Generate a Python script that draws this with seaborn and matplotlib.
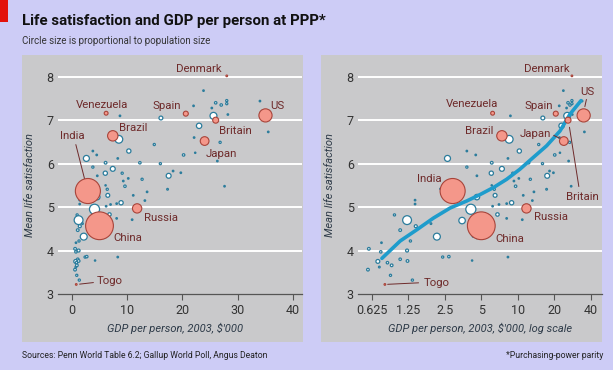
import numpy as np
import pandas as pd
import matplotlib
matplotlib.use("Agg")
import matplotlib.pyplot as plt
import seaborn as sns
from matplotlib.patches import Rectangle

# ---------------- data ----------------
named_countries = ["Denmark", "US", "Spain", "Britain", "Japan", "Brazil",
                   "Venezuela", "India", "China", "Russia", "Togo"]
named_gdp = [28.0, 35.0, 20.6, 26.0, 24.0, 7.4, 6.2, 2.9, 5.0, 11.8, 0.8]
named_sat = [8.02, 7.11, 7.15, 7.0, 6.52, 6.64, 7.16, 5.37, 4.57, 4.97, 3.22]
named_pop = [5, 290, 42, 60, 127, 180, 25, 1050, 1290, 145, 5]

other_gdp = [0.59, 0.58, 0.70, 0.75, 0.74, 0.72, 0.84, 0.91, 0.89, 0.96,
             1.07, 1.22, 1.44, 1.42, 1.42, 1.30, 1.22, 1.07, 1.23, 1.35,
             1.92, 2.15, 2.4, 2.7, 2.63, 2.55, 2.3, 3.0, 3.8, 3.8,
             3.3, 4.1, 3.47, 4.0, 4.3, 4.6, 4.6, 4.5, 4.6, 5.65,
             6.1, 6.05, 7.4, 6.1, 6.4, 6.5, 6.8, 6.2, 7.0, 8.1,
             8.9, 8.1, 8.3, 4.2, 8.7, 8.3, 8.5, 9.1, 9.3, 9.6,
             10.3, 10.2, 11.1, 10.9, 12.7, 12.3, 13.2, 13.6, 14.9, 16.0,
             16.1, 17.5, 17.3, 18.3, 19.7, 20.2, 22.0, 23.0, 25.6, 22.3,
             23.8, 26.0, 27.0, 28.0, 28.0, 26.3, 27.6, 26.8, 35.5, 34.0,
             28.2, 25.3, 22.1]
other_sat = [4.04, 3.56, 3.75, 4.18, 3.97, 3.62, 3.72, 3.66, 3.43, 4.82,
             4.47, 4.70, 4.56, 5.16, 5.07, 4.22, 4.00, 3.80, 3.76, 3.32,
             4.62, 4.32, 3.85, 3.86, 6.12, 5.33, 5.42, 5.38, 6.29, 5.92,
             5.27, 4.95, 4.69, 4.60, 4.33, 4.29, 5.23, 6.20, 5.72, 4.77,
             6.02, 5.78, 5.88, 5.50, 5.41, 5.27, 4.83, 5.02, 5.06, 5.08,
             5.10, 4.74, 3.85, 3.77, 7.10, 6.12, 6.56, 5.78, 5.60, 5.48,
             6.29, 5.66, 5.27, 4.71, 5.64, 6.02, 5.15, 5.35, 6.44, 6.00,
             7.05, 5.72, 5.41, 5.83, 5.79, 6.20, 7.33, 6.87, 7.10, 6.25,
             7.68, 7.40, 7.35, 7.45, 7.38, 6.06, 5.48, 6.49, 6.73, 7.44,
             7.13, 7.28, 6.60]
other_pop = [12, 12, 25, 4, 10, 5, 10, 12, 8, 8,
             12, 130, 15, 4, 4, 8, 15, 10, 12, 8,
             5, 80, 8, 10, 60, 40, 3, 4, 4, 8,
             20, 170, 70, 20, 8, 4, 50, 4, 4, 45,
             12, 30, 40, 3, 8, 25, 20, 4, 4, 4,
             30, 4, 4, 3, 4, 4, 100, 8, 4, 10,
             30, 4, 4, 4, 8, 10, 4, 4, 8, 8,
             25, 40, 5, 4, 4, 10, 4, 48, 80, 3,
             4, 10, 10, 8, 8, 4, 4, 8, 4, 4,
             4, 4, 4]

# hand-read loess trend (right panel)
trend_gdp = [0.756, 1.07, 1.47, 2.02, 2.77, 3.79, 4.9, 6.3, 8.1, 10.4,
             13.4, 17.3, 22.3, 27.0, 33.3]
trend_sat = [3.82, 4.22, 4.48, 4.75, 4.98, 5.14, 5.29, 5.45, 5.64, 5.87,
             6.14, 6.41, 6.75, 7.14, 7.45]

y_ticks = [3, 4, 5, 6, 7, 8]
lin_ticks = [0, 10, 20, 30, 40]
log_ticks = [0.625, 1.25, 2.5, 5, 10, 20, 40]
log_labels = ["0.625", "1.25", "2.5", "5", "10", "20", "40"]

# ---------------- style ----------------
BG = "#cdccf6"
PANEL = "#c9c9cb"
TEAL = "#2b7c9c"
SALMON = "#f4978a"
SALMON_EDGE = "#a8443a"
LABEL = "#6e2a2a"
TICK = "#333333"
LINE = "#1e9ccc"

sns.set_theme(style="white")
plt.rcParams["font.family"] = ["Roboto", "DejaVu Sans"]

others = pd.DataFrame({"gdp": other_gdp, "sat": other_sat, "pop": other_pop})
named = pd.DataFrame({"country": named_countries, "gdp": named_gdp,
                      "sat": named_sat, "pop": named_pop})
trend = pd.DataFrame({"gdp": trend_gdp, "sat": trend_sat})

W, H = 613, 370
fig = plt.figure(figsize=(W / 100, H / 100), dpi=100)
fig.patch.set_facecolor(BG)

def px(x0, y0, w, h):
    return [x0 / W, 1 - (y0 + h) / H, w / W, h / H]

# red tag and panels (drawn behind the axes)
fig.patches.append(Rectangle((0, 1 - 22 / H), 8 / W, 22 / H, transform=fig.transFigure,
                             facecolor="#e3120b", edgecolor="none", zorder=-10))
for x0 in (22, 321):
    r = px(x0, 55, 281, 287)
    fig.patches.append(Rectangle((r[0], r[1]), r[2], r[3], transform=fig.transFigure,
                                 facecolor=PANEL, edgecolor="none", zorder=-10))

axL = fig.add_axes(px(58, 55, 244, 239))
axR = fig.add_axes(px(358, 55, 244, 239))

K = 0.31  # points^2 of marker area per million people
smax = max(named_pop + other_pop)

def draw(ax):
    ax.set_facecolor("none")
    for y in y_ticks[1:]:
        ax.axhline(y, color="white", lw=1.4, zorder=1)
    sns.scatterplot(data=others, x="gdp", y="sat", size="pop",
                    sizes=(0, smax * K), size_norm=(0, smax), legend=False,
                    color="white", edgecolor=TEAL, linewidth=0.9, ax=ax, zorder=3)

def finish(ax, xlabel):
    ax.set_ylim(3, 8.5)
    ax.set_yticks(y_ticks)
    ax.set_yticklabels([str(v) for v in y_ticks])
    for s in ("top", "left", "right"):
        ax.spines[s].set_visible(False)
    ax.spines["bottom"].set_color("#555555")
    ax.spines["bottom"].set_linewidth(0.9)
    ax.tick_params(axis="y", length=0, pad=3, labelsize=9, labelcolor=TICK)
    ax.tick_params(axis="x", length=4, width=0.8, color="#555555", pad=3,
                   labelsize=9, labelcolor=TICK, direction="out", bottom=True)
    ax.minorticks_off()
    ax.set_ylabel("Mean life satisfaction", fontsize=8, style="italic", color="#2d3a48")
    ax.yaxis.set_label_coords(-0.094, 0.456)
    ax.set_xlabel(xlabel, fontsize=8, style="italic", color="#2d3a48")
    ax.grid(False)

# ---- left panel ----
draw(axL)
sns.scatterplot(data=named, x="gdp", y="sat", size="pop",
                sizes=(0, smax * K), size_norm=(0, smax), legend=False,
                color=SALMON, edgecolor=SALMON_EDGE, linewidth=0.8, ax=axL, zorder=4)
axL.set_xlim(-2.5, 41.6)
axL.set_xticks(lin_ticks)
axL.set_xticklabels([str(v) for v in lin_ticks])
finish(axL, "GDP per person, 2003, $'000")
axL.xaxis.set_label_coords(0.48, -0.12)

left_labels = {
    "Denmark": (27.0, 8.18, "right"), "Venezuela": (5.5, 7.36, "center"),
    "Spain": (17.2, 7.33, "center"), "US": (35.8, 7.33, "left"),
    "Brazil": (8.6, 6.81, "left"), "India": (0.1, 6.63, "center"),
    "Britain": (26.6, 6.75, "left"), "Japan": (24.2, 6.23, "left"),
    "Russia": (13.1, 4.76, "left"), "China": (7.5, 4.30, "left"),
    "Togo": (4.5, 3.29, "left"),
}
for name, (x, y, ha) in left_labels.items():
    axL.text(x, y, name, ha=ha, va="center", fontsize=8.2, color=LABEL, zorder=6)
axL.annotate("", xy=(2.4, 5.6), xytext=(0.6, 6.5),
             arrowprops=dict(arrowstyle="-", color=LABEL, lw=0.7), zorder=6)
axL.annotate("", xy=(0.9, 3.22), xytext=(4.4, 3.27),
             arrowprops=dict(arrowstyle="-", color=LABEL, lw=0.7), zorder=6)

# ---- right panel ----
draw(axR)
sns.lineplot(data=trend, x="gdp", y="sat", color=LINE, lw=2.6, ax=axR, zorder=5)
sns.scatterplot(data=named, x="gdp", y="sat", size="pop",
                sizes=(0, smax * K), size_norm=(0, smax), legend=False,
                color=SALMON, edgecolor=SALMON_EDGE, linewidth=0.8, ax=axR, zorder=6)
axR.set_xscale("log", base=2)
axR.set_xlim(0.48, 49.6)
axR.set_xticks(log_ticks)
axR.set_xticklabels(log_labels)
finish(axR, "GDP per person, 2003, $'000, log scale")
axR.xaxis.set_label_coords(0.5, -0.12)

right_labels = {
    "Denmark": (26.7, 8.18, "right"), "US": (32.7, 7.64, "left"),
    "Venezuela": (4.2, 7.38, "center"), "Spain": (19.7, 7.33, "right"),
    "Brazil": (6.3, 6.74, "right"), "Japan": (18.7, 6.69, "right"),
    "India": (1.87, 5.65, "center"), "Britain": (25.0, 5.23, "left"),
    "Russia": (13.7, 4.77, "left"), "China": (6.5, 4.27, "left"),
    "Togo": (1.66, 3.25, "left"),
}
for name, (x, y, ha) in right_labels.items():
    axR.text(x, y, name, ha=ha, va="center", fontsize=8.2, color=LABEL, zorder=7)
for start, end in [((18.9, 6.68), (23.0, 6.56)), ((32.2, 5.41), (26.5, 6.9)),
                   ((37.3, 7.54), (35.4, 7.25)), ((0.8, 3.22), (1.6, 3.26))]:
    axR.annotate("", xy=end, xytext=start,
                 arrowprops=dict(arrowstyle="-", color=LABEL, lw=0.7), zorder=7)

# ---- titles / footer ----
fig.text(22 / W, 1 - 21 / H, "Life satisfaction and GDP per person at PPP*",
         fontsize=10.8, fontweight="bold", color="#111111", va="center", ha="left")
fig.text(22 / W, 1 - 41.5 / H, "Circle size is proportional to population size",
         fontsize=7, color="#333333", va="center", ha="left")
fig.text(22 / W, 1 - 355 / H, "Sources: Penn World Table 6.2; Gallup World Poll, Angus Deaton",
         fontsize=6.2, color="#222222", va="center", ha="left")
fig.text(603 / W, 1 - 355 / H, "*Purchasing-power parity",
         fontsize=6.2, color="#222222", va="center", ha="right")

fig.savefig("out.png", dpi=100, facecolor=BG)
